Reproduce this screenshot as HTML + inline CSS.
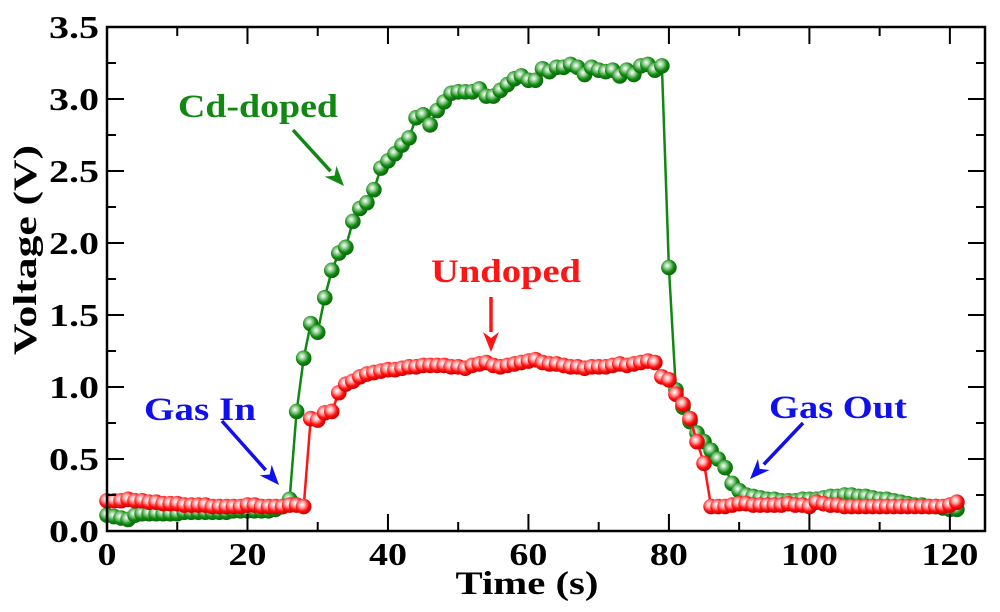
<!DOCTYPE html>
<html><head><meta charset="utf-8"><style>
html,body{margin:0;padding:0;background:#fff;}
svg{display:block;}
text{font-family:"Liberation Serif",serif;font-weight:bold;}
</style></head><body>
<svg id="chart" width="1000" height="612" viewBox="0 0 1000 612">
<defs>
<radialGradient id="gGreen" cx="0.4" cy="0.38" r="0.6"><stop offset="0" stop-color="#fff"/><stop offset="0.3" stop-color="#9fd49f"/><stop offset="0.7" stop-color="#108a10"/><stop offset="1" stop-color="#0a6a0a"/></radialGradient>
<radialGradient id="gRed" cx="0.4" cy="0.38" r="0.6"><stop offset="0" stop-color="#fff"/><stop offset="0.3" stop-color="#ffb0b0"/><stop offset="0.7" stop-color="#ff1010"/><stop offset="1" stop-color="#d00000"/></radialGradient>
</defs>
<g id="plot"></g>
<g id="axes"></g>
<g id="ann"></g>
</svg>
<script>
const greenValues = [0.11,0.10,0.09,0.08,0.11,0.12,0.12,0.12,0.12,0.12,0.12,0.13,0.13,0.13,0.13,0.13,0.13,0.13,0.14,0.14,0.14,0.14,0.14,0.14,0.15,0.17,0.22,
0.83,1.20,1.44,1.38,1.62,1.81,1.93,1.97,2.15,2.24,2.28,2.37,2.52,2.57,2.62,2.68,2.73,2.87,2.89,2.82,2.92,2.98,3.04,3.05,3.05,3.05,3.07,3.02,3.02,3.06,3.10,3.14,3.16,3.13,3.13,3.21,3.19,3.22,3.22,3.24,3.22,3.17,3.22,3.20,3.19,3.20,3.16,3.20,3.17,3.23,3.24,3.20,3.23,
1.83,0.98,0.86,0.76,0.68,0.62,0.56,0.50,0.44,0.33,0.28,
0.25,0.24,0.23,0.22,0.22,0.21,0.21,0.21,0.22,0.22,0.22,0.23,0.24,0.24,0.25,0.25,0.24,0.24,0.23,0.22,0.22,0.21,0.20,0.19,0.18,0.18,0.17,0.17,0.16,0.15,0.15];
const redValues = [0.21,0.21,0.21,0.22,0.21,0.21,0.20,0.20,0.19,0.19,0.19,0.18,0.18,0.18,0.18,0.17,0.17,0.17,0.17,0.17,0.18,0.18,0.17,0.17,0.17,0.17,0.18,0.18,0.17,
0.78,0.77,0.82,0.83,0.96,1.02,1.04,1.07,1.09,1.10,
1.11,1.12,1.12,1.13,1.14,1.14,1.15,1.15,1.15,1.15,
1.14,1.14,1.13,1.15,1.16,1.17,1.15,1.14,1.15,1.16,
1.17,1.18,1.19,1.17,1.16,1.16,1.15,1.14,1.14,1.13,
1.14,1.14,1.14,1.15,1.16,1.15,1.16,1.17,1.18,1.17,
1.07,1.05,0.95,0.88,0.78,0.62,0.47,
0.17,0.17,0.17,0.18,0.19,0.19,0.18,0.18,0.18,0.18,0.18,0.19,0.18,0.18,0.17,0.20,0.19,0.18,0.18,0.17,0.17,0.17,0.17,0.17,0.17,0.17,0.17,0.17,0.17,0.17,0.17,0.17,0.17,0.17,0.18,0.20];
const sampleInterval = 1;
const xTickLabels = ["0","20","40","60","80","100","120"];
const yTickLabels = ["0.0","0.5","1.0","1.5","2.0","2.5","3.0","3.5"];

const X0=107,X1=985,Y0=531,Y1=27,XMAX=125,YMAX=3.5;
const xs=v=>X0+(v/XMAX)*(X1-X0);
const ys=v=>Y0-(v/YMAX)*(Y0-Y1);
const NS="http://www.w3.org/2000/svg";
function mk(tag,attrs,parent){const e=document.createElementNS(NS,tag);for(const k in attrs)e.setAttribute(k,attrs[k]);parent.appendChild(e);return e;}
const plot=document.getElementById('plot'),axes=document.getElementById('axes'),ann=document.getElementById('ann');

function series(vals,color,grad,name){
  const g=mk('g',{},plot);
  
  
  const pts=vals.map((v,i)=>xs(i*sampleInterval).toFixed(1)+','+ys(v).toFixed(1)).join(' ');
  const pl=mk('polyline',{points:pts,fill:'none',stroke:color,'stroke-width':2.5},g);
  
  
  vals.forEach((v,i)=>{
    const c=mk('circle',{cx:xs(i*sampleInterval),cy:ys(v),r:7.8,fill:'url(#'+grad+')'},g);
    
    
  });
}
series(greenValues,'#118811','gGreen','cd-doped');
series(redValues,'#ff1515','gRed','undoped');

const fr=mk('rect',{x:X0,y:Y1,width:X1-X0,height:Y0-Y1,fill:'none',stroke:'#000','stroke-width':2.5},axes);


for(let v=0;v<=XMAX;v+=10){
  const L=(v%20===0)?17:9,x=xs(v);
  mk('line',{x1:x,y1:Y0,x2:x,y2:Y0-L,stroke:'#000','stroke-width':2},axes);
  mk('line',{x1:x,y1:Y1,x2:x,y2:Y1+L,stroke:'#000','stroke-width':2},axes);
}
xTickLabels.forEach((t,i)=>{
  const e=mk('text',{x:xs(i*20),y:565,'font-size':32,'text-anchor':'middle',textLength:t.length*19,lengthAdjust:'spacingAndGlyphs'},axes);
  e.textContent=t;
  
  
});
for(let k=0;k<=14;k++){
  const v=k*0.25,L=(k%2===0)?17:9,y=ys(v);
  mk('line',{x1:X0,y1:y,x2:X0+L,y2:y,stroke:'#000','stroke-width':2},axes);
  mk('line',{x1:X1,y1:y,x2:X1-L,y2:y,stroke:'#000','stroke-width':2},axes);
}
yTickLabels.forEach((t,i)=>{
  const e=mk('text',{x:99,y:ys(i*0.5)+11,'font-size':32,'text-anchor':'end',textLength:50,lengthAdjust:'spacingAndGlyphs'},axes);
  e.textContent=t;
  
  
});
const xt=mk('text',{x:527,y:594,'font-size':33,'text-anchor':'middle',textLength:143,lengthAdjust:'spacingAndGlyphs'},axes);
xt.textContent='Time (s)';


const yt=mk('text',{x:0,y:0,'font-size':33,'text-anchor':'middle',textLength:210,lengthAdjust:'spacingAndGlyphs',transform:'translate(36,250) rotate(-90)'},axes);
yt.textContent='Voltage (V)';



function label(txt,x,y,w,color,name){
  const e=mk('text',{x:x,y:y,'font-size':33,'text-anchor':'middle',fill:color,textLength:w,lengthAdjust:'spacingAndGlyphs'},ann);
  e.textContent=txt;
  
  
}
function arrow(x1,y1,x2,y2,color,name){
  const g=mk('g',{},ann);
  
  
  const a=Math.atan2(y2-y1,x2-x1),h=20,w=8;
  const bx=x2-h*Math.cos(a),by=y2-h*Math.sin(a);
  mk('line',{x1:x1,y1:y1,x2:bx,y2:by,stroke:color,'stroke-width':3.5},g);
  const px=-Math.sin(a)*w,py=Math.cos(a)*w;
  const nx=x2-h*0.7*Math.cos(a),ny=y2-h*0.7*Math.sin(a);
  mk('path',{d:`M${x2},${y2} L${bx+px},${by+py} L${nx},${ny} L${bx-px},${by-py} Z`,fill:color},g);
}
label('Cd-doped',258,117,160,'#118811','cd-doped-label');
arrow(293,130,344,186,'#118811','cd-doped-arrow');
label('Undoped',506,282,150,'#ff1515','undoped-label');
arrow(491,297,491,352,'#ff1515','undoped-arrow');
label('Gas In',200,420,112,'#1010ee','gas-in-label');
arrow(222,421,279,485,'#1010ee','gas-in-arrow');
label('Gas Out',838,418,138,'#1010ee','gas-out-label');
arrow(803,423,750,479,'#1010ee','gas-out-arrow');
</script>
</body></html>
